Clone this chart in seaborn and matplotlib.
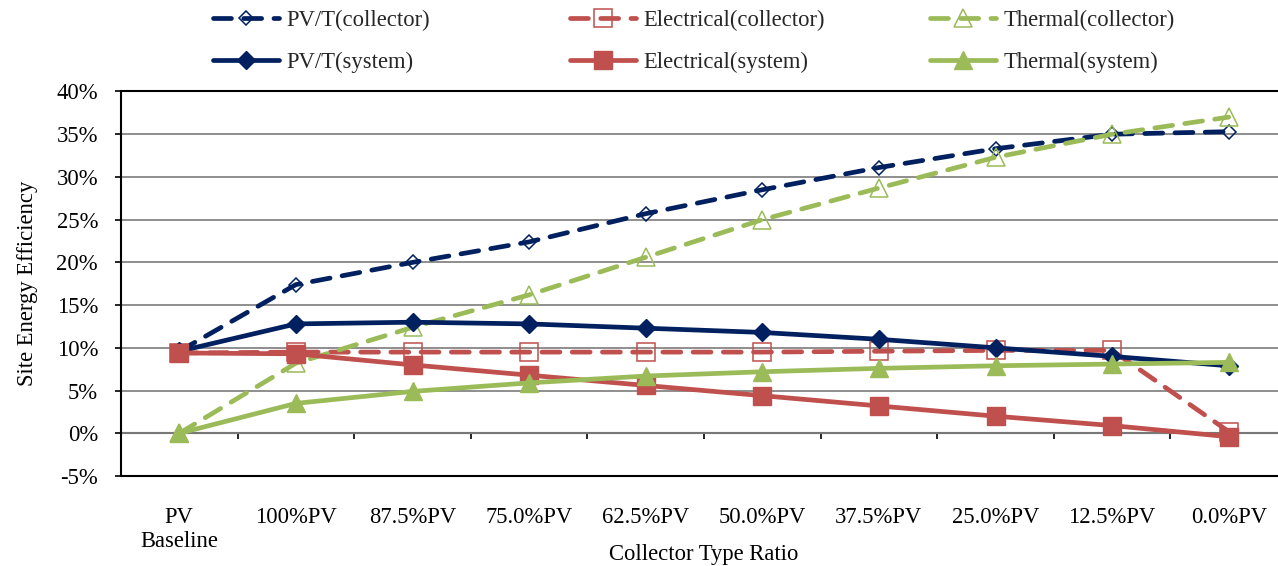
import numpy as np
import matplotlib
matplotlib.use("Agg")
import matplotlib.pyplot as plt
import seaborn as sns

# ---- data (values in %) ----
categories = ["PV\nBaseline", "100%PV", "87.5%PV", "75.0%PV", "62.5%PV",
              "50.0%PV", "37.5%PV", "25.0%PV", "12.5%PV", "0.0%PV"]
pvt_collector = [9.6, 17.4, 20.0, 22.4, 25.7, 28.5, 31.1, 33.3, 35.0, 35.3]
elec_collector = [9.4, 9.5, 9.5, 9.5, 9.5, 9.5, 9.6, 9.7, 9.7, 0.2]
thermal_collector = [0.0, 8.2, 12.4, 16.2, 20.6, 25.0, 28.7, 32.3, 35.0, 37.0]
pvt_system = [9.6, 12.8, 13.0, 12.8, 12.3, 11.8, 11.0, 10.0, 9.0, 7.9]
elec_system = [9.4, 9.3, 8.0, 6.8, 5.6, 4.4, 3.2, 2.0, 0.9, -0.4]
thermal_system = [0.0, 3.5, 4.9, 5.9, 6.7, 7.2, 7.6, 7.9, 8.1, 8.3]
y_ticks = [-5, 0, 5, 10, 15, 20, 25, 30, 35, 40]

NAVY = "#002060"
RED = "#C0504D"
GREEN = "#9BBB59"

sns.set_theme(style="white")
plt.rcParams["font.family"] = ["Liberation Serif", "DejaVu Serif"]
FS = 16.3

fig = plt.figure(figsize=(12.78, 5.66), dpi=100)
ax = fig.add_axes([121 / 1278, 1 - 476 / 566, (1287 - 121) / 1278, (476 - 91.5) / 566])

x = np.arange(len(categories))
LW = 3.4
dash = (0, (3.8, 2.6))

series = [
    ("PV/T(collector)", pvt_collector, NAVY, "D", 7.5, True),
    ("Electrical(collector)", elec_collector, RED, "s", 12.5, True),
    ("Thermal(collector)", thermal_collector, GREEN, "^", 12.5, True),
    ("PV/T(system)", pvt_system, NAVY, "D", 9.5, False),
    ("Electrical(system)", elec_system, RED, "s", 13.5, False),
    ("Thermal(system)", thermal_system, GREEN, "^", 13.5, False),
]

for label, vals, col, mk, ms, collector in series:
    if collector:
        sns.lineplot(x=x, y=vals, ax=ax, color=col, lw=LW, linestyle=dash,
                     dash_capstyle="round", marker=mk, markersize=ms,
                     markerfacecolor="none", markeredgecolor=col,
                     markeredgewidth=1.1, label=label)
    else:
        sns.lineplot(x=x, y=vals, ax=ax, color=col, lw=LW, linestyle="-",
                     marker=mk, markersize=ms, markerfacecolor=col,
                     markeredgecolor=col, markeredgewidth=1.0, label=label)

handles, labels = ax.get_legend_handles_labels()
ax.get_legend().remove()

# axes styling
ax.set_xlim(-0.5, len(categories) - 0.5)
ax.set_ylim(-5, 40)
ax.set_yticks(y_ticks)
ax.set_yticklabels([f"{v}%" for v in y_ticks])
ax.set_xticks(x)
ax.set_xticklabels(categories, linespacing=1.2)
ax.set_xticks(np.arange(-0.5, len(categories), 1), minor=True)
ax.tick_params(axis="both", which="major", labelsize=FS, labelcolor="black")
ax.tick_params(axis="x", which="major", length=0, pad=53)
ax.tick_params(axis="x", which="minor", length=4.5, width=1.2, direction="out",
               color="black", bottom=True)
ax.tick_params(axis="y", which="major", length=4.5, width=1.2, direction="out",
               color="black", left=True, pad=12)

ax.yaxis.grid(True, color="#868686", lw=1.3)
ax.xaxis.grid(False)
ax.set_axisbelow(True)

for s in ["left", "bottom", "top"]:
    ax.spines[s].set_visible(True)
    ax.spines[s].set_color("black")
    ax.spines[s].set_linewidth(1.5)
ax.spines["right"].set_visible(False)
ax.spines["bottom"].set_position(("data", 0))
ax.spines["bottom"].set_zorder(0.5)
ax.axhline(-5, color="black", lw=1.5, clip_on=False, zorder=0.6)

ax.set_xlabel("Collector Type Ratio", fontsize=FS, color="black")
ax.xaxis.set_label_coords(0.5, -0.205)
ax.xaxis.label.set_va("center")
ax.set_ylabel("Site Energy Efficiency", fontsize=FS, color="black")
ax.yaxis.set_label_coords(-0.08, 0.5)
ax.yaxis.label.set_va("center")

# legends: three columns, each with collector on top, system below
col_x = [213 / 1278, 570 / 1278, 930 / 1278]
for i in range(3):
    fig.legend([handles[i], handles[i + 3]], [labels[i], labels[i + 3]],
               loc="upper left", bbox_to_anchor=(col_x[i], 0.982),
               frameon=False, fontsize=FS, borderpad=0, borderaxespad=0,
               handlelength=2.9, handletextpad=0.35, labelspacing=0.9,
               numpoints=1)

fig.savefig("out.png", dpi=100)
